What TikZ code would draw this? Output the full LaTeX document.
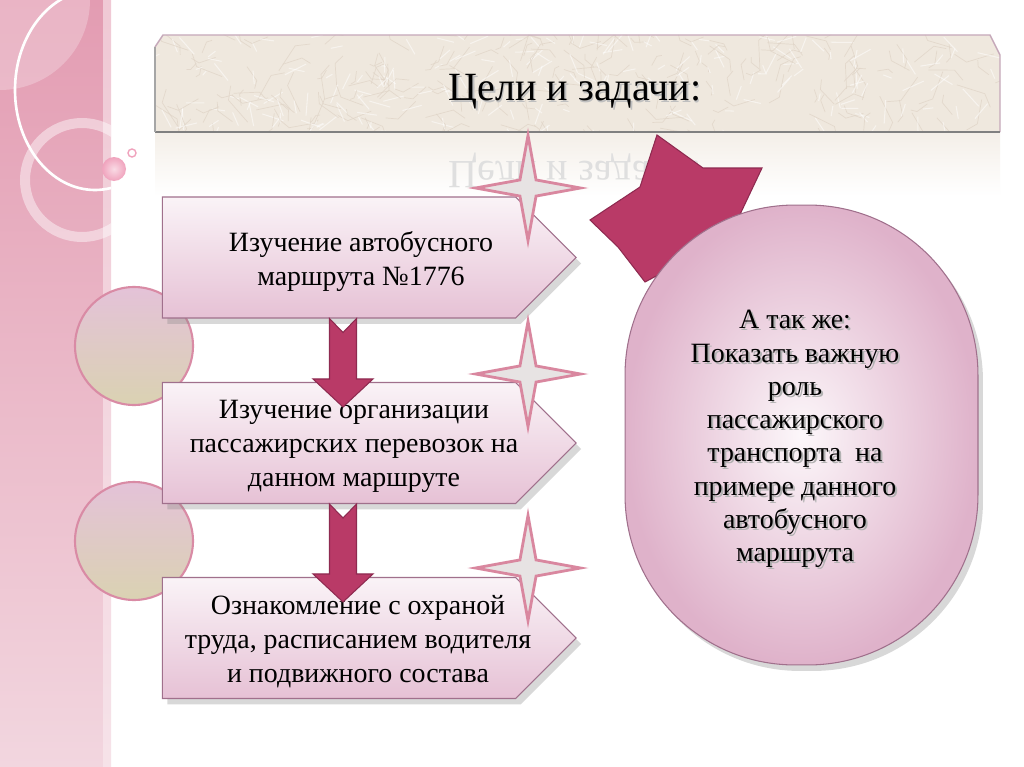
\documentclass[tikz,border=0pt]{standalone}
\usepackage{fontspec}
\setmainfont{Liberation Serif}
\usetikzlibrary{shapes.geometric, shapes.symbols, shadows, calc, positioning}
\definecolor{bandpink}{HTML}{E39CB2}
\definecolor{bandlight}{HTML}{F2D6DF}
\definecolor{boxlight}{HTML}{FAF3F7}
\definecolor{boxpink}{HTML}{E6C1D5}
\definecolor{boxline}{HTML}{A0708C}
\definecolor{raspberry}{HTML}{B93A67}
\definecolor{raspline}{HTML}{8E2A50}
\definecolor{starline}{HTML}{D9879F}
\definecolor{stargray}{HTML}{E7E3E3}
\definecolor{cream}{HTML}{EFE8DE}
\definecolor{creamline}{HTML}{E0D5C8}
\definecolor{ovalpink}{HTML}{DFB2CA}
\definecolor{ovalcenter}{HTML}{FCF7FA}
\definecolor{circlelav}{HTML}{E4C2D8}
\definecolor{circlecream}{HTML}{ECE6D2}
\definecolor{circledark}{HTML}{DAD2B2}
\definecolor{circleline}{HTML}{D98BA5}
\definecolor{ballpink}{HTML}{F0A3BD}

% down block arrow from top point #1 to tip #2
\newcommand{\blockdown}[2]{%
  \filldraw[blockarrow] let \p1=#1, \p2=#2 in
    (\x1-0.27cm,\y1) -- (\x1,\y1-0.28cm) -- (\x1+0.27cm,\y1)
    -- (\x1+0.27cm,\y2+0.56cm) -- (\x1+0.6cm,\y2+0.56cm) -- (\x1,\y2)
    -- (\x1-0.6cm,\y2+0.56cm) -- (\x1-0.27cm,\y2+0.56cm) -- cycle;}

\begin{document}
\begin{tikzpicture}[x=0.02cm, y=-0.02cm,
    stepbox/.style={signal, signal to=east, signal pointer angle=90,
      draw=boxline, line width=0.6pt, top color=boxlight, bottom color=boxpink,
      minimum width=8.28cm, minimum height=2.42cm, inner sep=0pt,
      drop shadow={shadow xshift=0.1cm, shadow yshift=-0.12cm, opacity=.3}},
    steptext/.style={align=center, font=\fontsize{15.9}{19.3}\selectfont},
    sidecircle/.style={circle, minimum size=2.36cm, draw=circleline, line width=1.2pt,
      top color=circlelav, middle color=circlecream, bottom color=circledark},
    sparkle/.style={star, star points=4, star point ratio=4.6, minimum size=2.1cm,
      inner sep=0pt, draw=starline, line width=1.6pt, fill=stargray},
    blockarrow/.style={fill=raspberry, draw=raspline, line width=0.6pt},
    titlefont/.style={font=\fontsize{22.8}{26}\selectfont}]
\useasboundingbox (0,0) rectangle (1024,767);
\fill[white] (0,0) rectangle (1024,767);

% left band
\shade[top color=bandpink, bottom color=bandlight] (0,0) rectangle (103,767);
\shade[top color=bandpink!55!white, bottom color=bandlight!70!white] (103,0) rectangle (111,767);
\begin{scope}
  \clip (0,0) rectangle (111,767);
  \fill[white, opacity=.25] (0,0) circle [radius=90];
  \draw[white, line width=1.5pt] (95,90) ellipse [x radius=80, y radius=100];
  \draw[white, opacity=.45, line width=0.2cm] (82,180) circle [radius=57];
\end{scope}
\shade[inner color=ballpink!40!white, outer color=ballpink] (114,169) circle [radius=12];
\draw[ballpink, line width=0.8pt] (132,153) circle [radius=4];

% title banner and its reflection
\shade[top color=cream!70!white, bottom color=white] (155,132) rectangle (1000,196);
\node[titlefont, yscale=-1, text=gray!25] (titlemirror) at (575,170) {Цели и задачи:};
\fill[cream] (155,47) -- (163,35) -- (990,35) -- (1000,55) -- (1000,132) -- (155,132) -- cycle;
\begin{scope}
  \clip (155,47) -- (163,35) -- (990,35) -- (1000,55) -- (1000,132) -- (155,132) -- cycle;
  \pgfmathsetseed{7}
  \foreach \i in {1,...,220}{
    \pgfmathsetmacro{\tx}{150+855*rnd}
    \pgfmathsetmacro{\ty}{30+105*rnd}
    \pgfmathsetmacro{\ta}{360*rnd}
    \pgfmathsetmacro{\tl}{8+22*rnd}
    \draw[creamline, line width=0.4pt, opacity=.8] (\tx,\ty) -- ++(\ta:\tl) -- ++(\ta+50:\tl*0.5);
    \draw[white, line width=0.6pt, opacity=.5] (\tx+6,\ty+4) -- ++(\ta+30:\tl*0.8);
  }
\end{scope}
\draw[boxline!60!white, line width=0.8pt] (155,47) -- (163,35) -- (990,35) -- (1000,55) -- (1000,132);
\draw[gray, line width=1.6pt] (155,132) -- (1000,132);
\draw[gray!70, line width=0.8pt] (155,47) -- (155,132);
\node[titlefont, text=gray!50] at (576.5,93.5) {Цели и задачи:};
\node[titlefont] (title) at (575,92) {Цели и задачи:};

% left circles behind the steps
\node[sidecircle] (c1) at (134,346) {};
\node[sidecircle] (c2) at (134,541) {};

% steps
\node[stepbox] (b1) at (339,257.5) {};
\node[stepbox] (b2) at (339,443) {};
\node[stepbox] (b3) at (339,638) {};
\node[steptext] (t1) at ([xshift=0.44cm, yshift=-0.08cm]b1.center) {Изучение автобусного\\маршрута №1776};
\node[steptext] (t2) at ([xshift=0.3cm, yshift=-0.06cm]b2.center) {Изучение организации\\пассажирских перевозок на\\данном маршруте};
\node[steptext] (t3) at ([xshift=0.38cm, yshift=-0.08cm]b3.center) {Ознакомление с охраной\\труда, расписанием водителя\\и подвижного состава};

\blockdown{([xshift=0.08cm]b1.south)}{([xshift=0.08cm, yshift=-0.5cm]b2.north)}
\blockdown{([xshift=0.08cm]b2.south)}{([xshift=0.08cm, yshift=-0.5cm]b3.north)}

% sparkles
\node[sparkle] (s1) at (528,188) {};
\node[sparkle] (s2) at (528,374) {};
\node[sparkle] (s3) at (528,568) {};

% big star behind the oval
\filldraw[blockarrow] (657,135) -- (703,168) -- (762,168) -- (735,225) -- (742,300)
  -- (690,258) -- (645,282) -- (618,247) -- (590,220) -- (640,187) -- cycle;

% oval
\node[draw=boxline, line width=0.6pt, rounded corners=3.4cm, minimum width=7.06cm,
  minimum height=9.2cm, inner color=ovalcenter, outer color=ovalpink,
  drop shadow={shadow xshift=0.1cm, shadow yshift=-0.12cm, opacity=.3}] (oval) at (801.5,435) {};
\node[align=center, font=\fontsize{15.9}{18.9}\selectfont, text=gray!60] at (797,441) {А так же:\\Показать важную\\роль\\пассажирского\\транспорта~ на\\примере данного\\автобусного\\маршрута};
\node[align=center, font=\fontsize{15.9}{18.9}\selectfont] (ovaltext) at (795,439) {А так же:\\Показать важную\\роль\\пассажирского\\транспорта~ на\\примере данного\\автобусного\\маршрута};
\end{tikzpicture}
\end{document}
